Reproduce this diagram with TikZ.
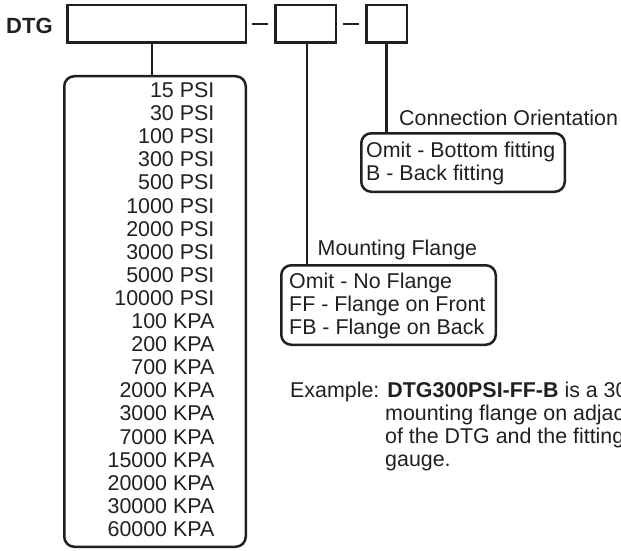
\documentclass[tikz,border=0pt]{standalone}
\usepackage{fontspec}
\setmainfont{Liberation Sans}
\definecolor{ink}{HTML}{231F20}
\newcommand\txtsize{\fontsize{21.4}{23}\selectfont}
\tikzset{
  box/.style={draw=ink, line width=2.5pt, inner sep=0pt, minimum height=37.5pt},
  rbox/.style={draw=ink, line width=2.5pt, rounded corners=10pt, inner sep=0pt},
  lbl/.style={inner sep=0pt, text=ink, font=\txtsize},
  link/.style={draw=ink, line width=2.5pt},
}
\begin{document}
\begin{tikzpicture}[x=1pt, y=-1pt]
  \path[use as bounding box, clip] (0,0) rectangle (621,551);

  % part number fields
  \node[lbl, font=\fontsize{22}{24}\selectfont\bfseries, anchor=base west] (dtg) at (6,33.3) {DTG};
  \node[box, minimum width=178.5pt] (b1) at (156.5,24) {};
  \node[box, minimum width=60.5pt]  (b2) at (305.5,24) {};
  \node[box, minimum width=40.5pt]  (b3) at (386.5,24) {};
  \draw[link, shorten <=5pt, shorten >=6pt] (b1.east) -- (b2.west);
  \draw[link, shorten <=6pt, shorten >=6pt] (b2.east) -- (b3.west);

  % pressure ranges
  \node[rbox, minimum width=181.5pt, minimum height=470.5pt] (list) at (155,311.5) {};
  \foreach \t [count=\i] in {15 PSI, 30 PSI, 100 PSI, 300 PSI, 500 PSI, 1000 PSI,
      2000 PSI, 3000 PSI, 5000 PSI, 10000 PSI, 100 KPA, 200 KPA, 700 KPA,
      2000 KPA, 3000 KPA, 7000 KPA, 15000 KPA, 20000 KPA, 30000 KPA, 60000 KPA}
    \node[lbl, anchor=base east] (p\i) at (214.5,{97.5+(\i-1)*23.1}) {\t};
  \draw[link] ([xshift=-4.5pt]b1.south) -- ([xshift=-4.5pt]b1.south |- list.north);

  % mounting flange
  \node[rbox, minimum width=214.5pt, minimum height=79.5pt] (flange) at (388.5,305) {};
  \node[lbl, anchor=base west] (mfl) at (317.5,255.5) {Mounting Flange};
  \node[lbl, anchor=base west] (f1) at (289,288) {Omit - No Flange};
  \node[lbl, anchor=base west] (f2) at (289,311) {FF - Flange on Front};
  \node[lbl, anchor=base west] (f3) at (289,334) {FB - Flange on Back};
  \draw[link] ([xshift=1.5pt]b2.south) -- ([xshift=1.5pt]b2.south |- flange.north);

  % connection orientation
  \node[rbox, minimum width=203.5pt, minimum height=58.5pt] (conn) at (463,162.5) {};
  \node[lbl, anchor=base west] (col) at (399,125) {Connection Orientation};
  \node[lbl, anchor=base west] (c1) at (366,157) {Omit - Bottom fitting};
  \node[lbl, anchor=base west] (c2) at (366,180) {B - Back fitting};
  \draw[link] (b3.south) -- (b3.south |- conn.north);

  % example
  \node[lbl, anchor=base west] (ex1) at (290,397) {Example: \textbf{DTG300PSI-FF-B} is a 300 PSI gauge with a};
  \node[lbl, anchor=base west] (ex2) at (385,420) {mounting flange on adjacent side};
  \node[lbl, anchor=base west] (ex3) at (385,443) {of the DTG and the fitting on the back of the};
  \node[lbl, anchor=base west] (ex4) at (385,466) {gauge.};
\end{tikzpicture}
\end{document}
